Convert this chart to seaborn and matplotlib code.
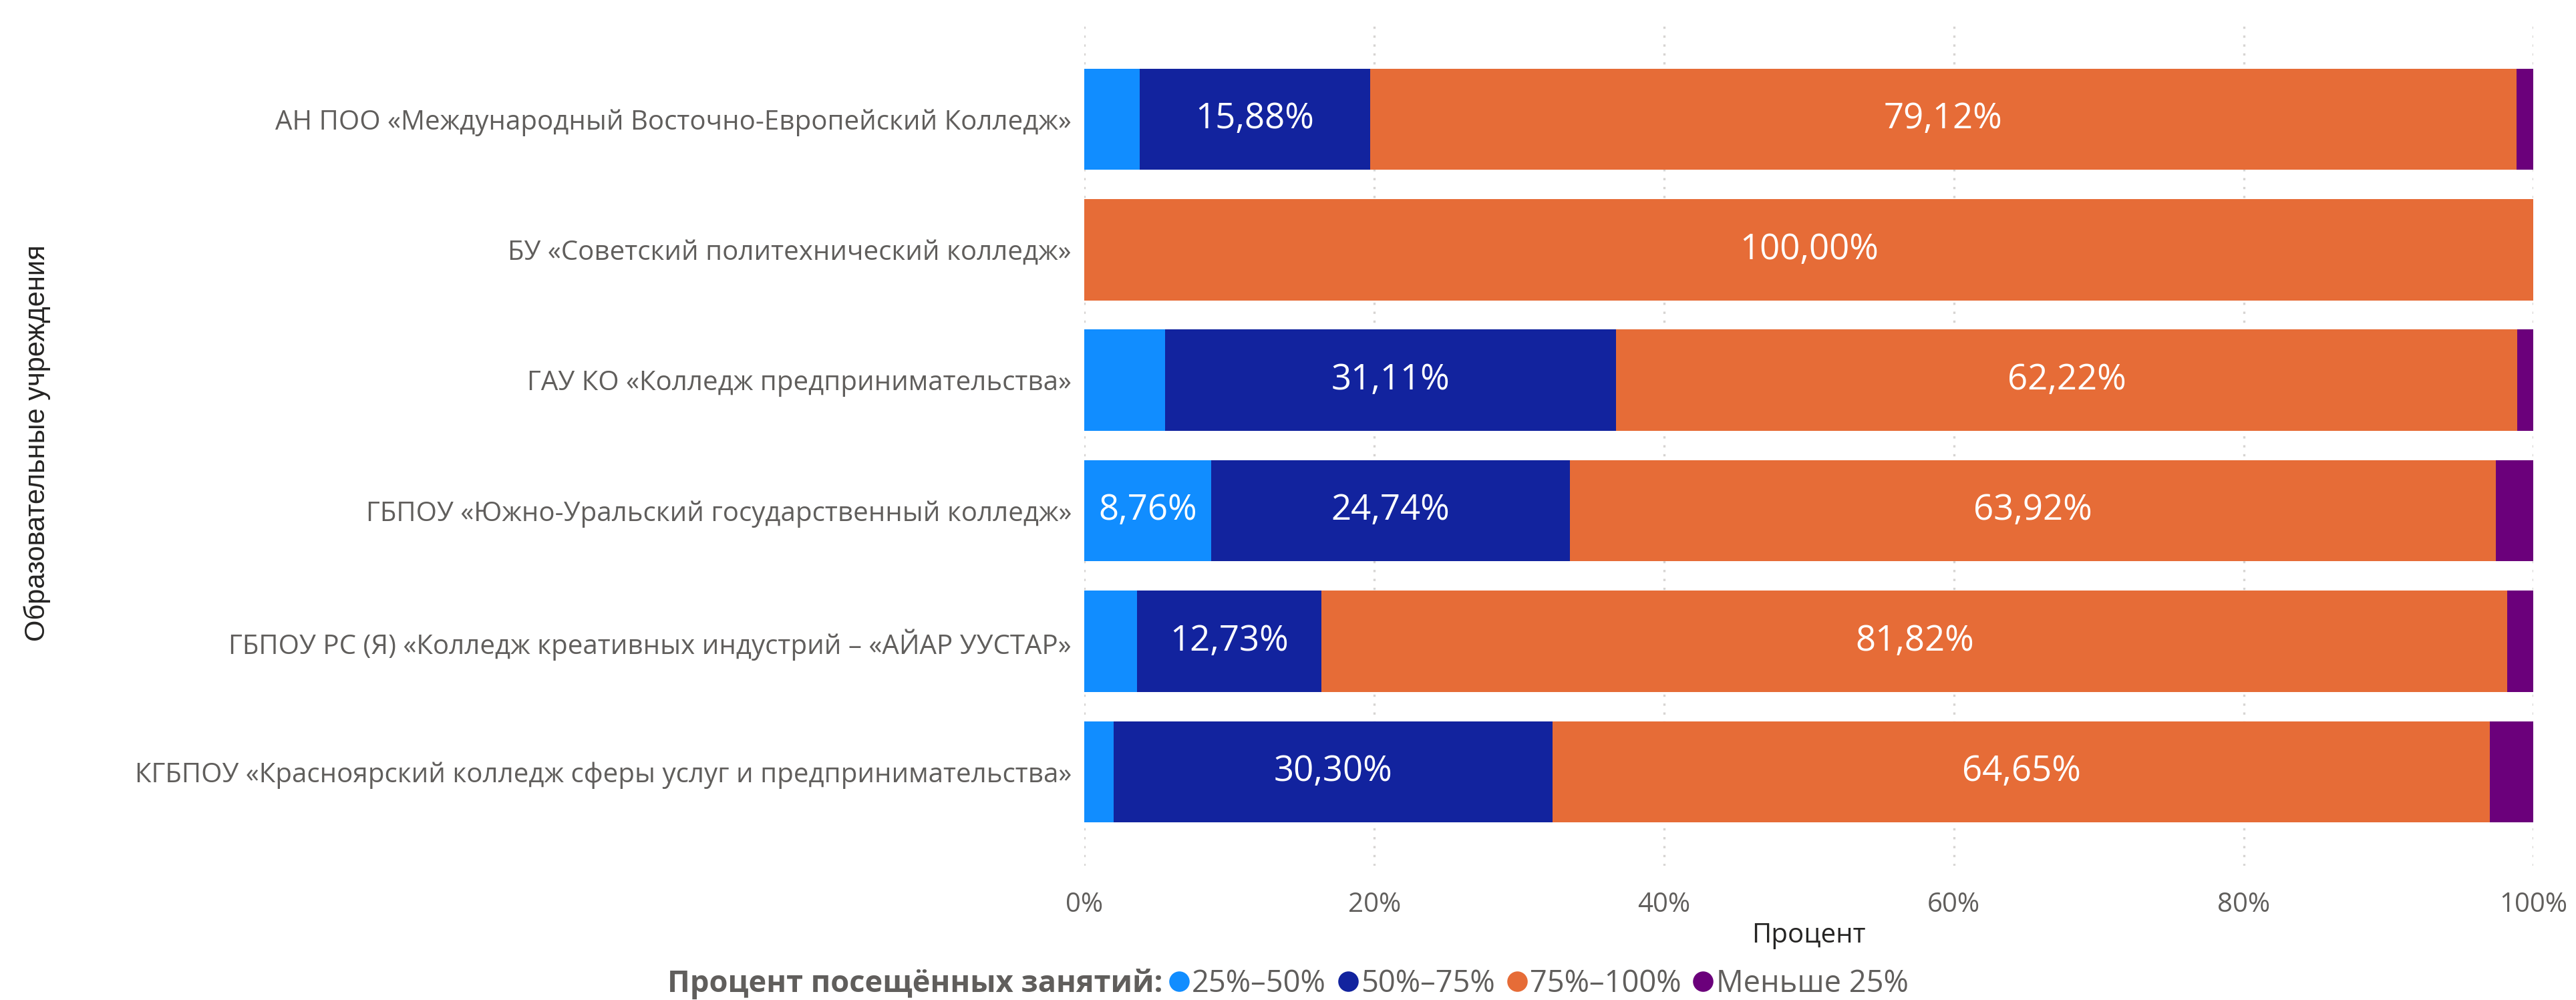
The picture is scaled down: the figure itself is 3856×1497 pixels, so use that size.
import matplotlib
matplotlib.use("Agg")
import matplotlib.pyplot as plt
import seaborn as sns
import pandas as pd
from matplotlib.lines import Line2D

# --- data (percent of attended classes per college) ---
colleges = [
    "АН ПОО «Международный Восточно-Европейский Колледж»",
    "БУ «Советский политехнический колледж»",
    "ГАУ КО «Колледж предпринимательства»",
    "ГБПОУ «Южно-Уральский государственный колледж»",
    "ГБПОУ РС (Я) «Колледж креативных индустрий – «АЙАР УУСТАР»",
    "КГБПОУ «Красноярский колледж сферы услуг и предпринимательства»",
]
pct_25_50 = [3.83, 0.00, 5.56, 8.76, 3.64, 2.02]
pct_50_75 = [15.88, 0.00, 31.11, 24.74, 12.73, 30.30]
pct_75_100 = [79.12, 100.00, 62.22, 63.92, 81.82, 64.65]
pct_lt_25 = [1.17, 0.00, 1.11, 2.58, 1.82, 3.03]

series_names = ["25%–50%", "50%–75%", "75%–100%", "Меньше 25%"]
colors = ["#118DFF", "#12239E", "#E66C37", "#6B007B"]

df = pd.DataFrame({
    "college": colleges,
    series_names[0]: pct_25_50,
    series_names[1]: pct_50_75,
    series_names[2]: pct_75_100,
    series_names[3]: pct_lt_25,
})

sns.set_style("white")
plt.rcParams["font.family"] = ["Open Sans", "DejaVu Sans"]

fig = plt.figure(figsize=(19.28, 7.485), dpi=200)
ax = fig.add_axes([0.421, 0.1343, 0.5625, 0.8457])

# cumulative ends, drawn from the last segment to the first
cum = df[series_names].cumsum(axis=1)
for name, col in reversed(list(zip(series_names, colors))):
    sns.barplot(data=cum.assign(college=df["college"]), x=name, y="college",
                orient="h", color=col, width=0.775, linewidth=0,
                saturation=1, ax=ax)

# segment labels
for i, row in df.iterrows():
    left = 0
    for name in series_names:
        v = row[name]
        if v >= 8:
            ax.text(left + v / 2, i, f"{v:.2f}".replace(".", ",") + "%",
                    ha="center", va="center", color="white", fontsize=19)
        left += v

ax.set_xlim(0, 100)
ax.set_ylim(5.72, -0.76)
ax.set_xticks([0, 20, 40, 60, 80, 100])
ax.set_xticklabels([f"{t}%" for t in [0, 20, 40, 60, 80, 100]])
ax.xaxis.grid(True, linestyle=(0, (1, 3)), color="#D6D4D2", linewidth=1.2)
ax.set_axisbelow(True)
for s in ax.spines.values():
    s.set_visible(False)
ax.tick_params(axis="y", length=0, pad=7, labelsize=14.5, labelcolor="#605E5C")
ax.tick_params(axis="x", length=0, pad=14, labelsize=14.5, labelcolor="#605E5C")
ax.set_ylabel("")
ax.set_xlabel("Процент", fontsize=14.5, color="#252423", labelpad=2)

fig.text(0.0145, 0.557, "Образовательные учреждения", rotation=90,
         ha="center", va="center", fontsize=15, color="#252423",
         family=["Liberation Sans", "DejaVu Sans"])

# legend: bold title text followed by round markers
handles = [Line2D([0], [0], marker="o", linestyle="", markersize=10,
                  markerfacecolor=c, markeredgecolor=c) for c in colors]
leg = fig.legend(handles, series_names, loc="center left",
                 bbox_to_anchor=(0.5, 0.016), ncol=4, frameon=False,
                 fontsize=16.3, handlelength=0.55, handletextpad=0.15,
                 columnspacing=0.45, borderaxespad=0, borderpad=0)
for t in leg.get_texts():
    t.set_color("#605E5C")
title = fig.text(0.5, 0.016, "Процент посещённых занятий:", ha="right",
                 va="center", fontsize=16.3, fontweight="bold", color="#605E5C")

fig.canvas.draw()
r = fig.canvas.get_renderer()
fw = fig.bbox.width
tw = title.get_window_extent(r).width / fw
lw = leg.get_window_extent(r).width / fw
gap = 0.003
x0 = 0.5 - (tw + lw + gap) / 2
title.set_x(x0 + tw)
leg.set_bbox_to_anchor((x0 + tw + gap, 0.016), transform=fig.transFigure)

fig.savefig("out.png", dpi=200)
